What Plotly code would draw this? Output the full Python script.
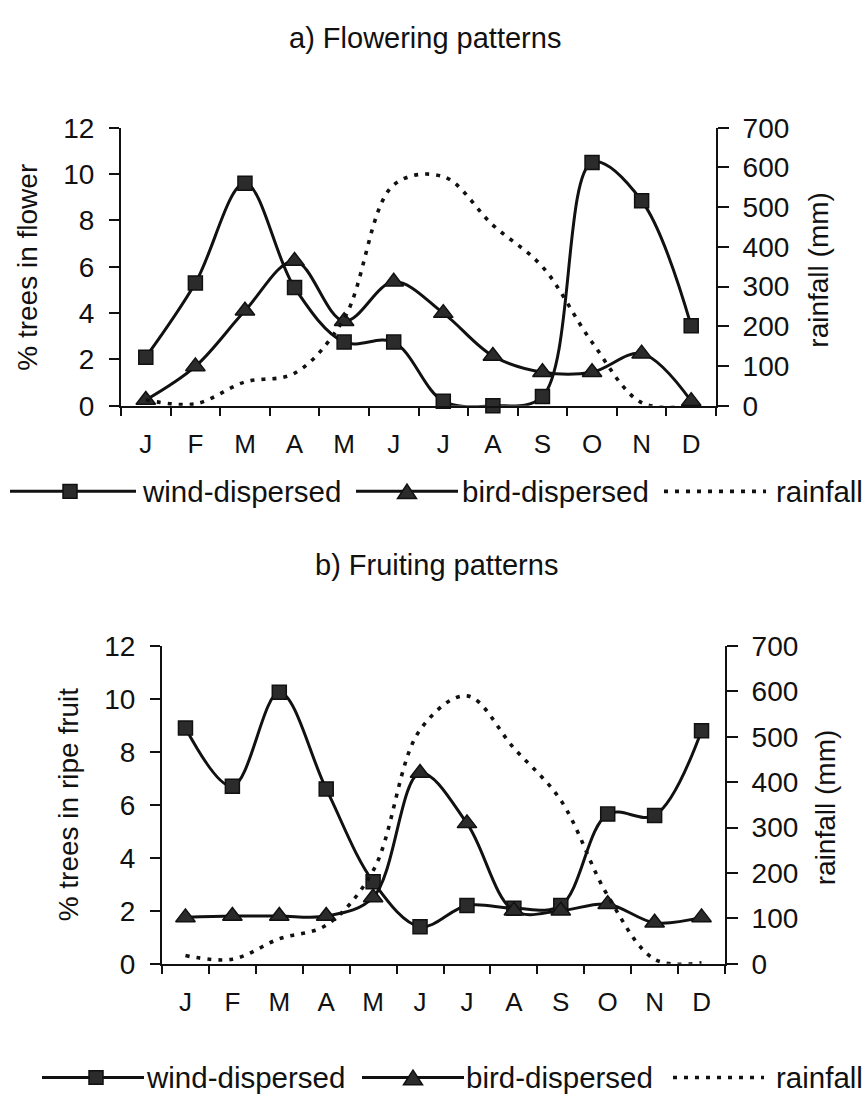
import plotly.graph_objects as go

W, H = 866, 1111

months = ["J", "F", "M", "A", "M", "J", "J", "A", "S", "O", "N", "D"]

flower_wind = [2.1, 5.3, 9.6, 5.1, 2.75, 2.75, 0.2, 0.0, 0.4, 10.5, 8.85, 3.45]
flower_bird = [0.25, 1.7, 4.1, 6.25, 3.65, 5.35, 4.0, 2.15, 1.45, 1.45, 2.25, 0.2]
flower_rain = [15, 5, 60, 82, 220, 556, 577, 455, 350, 160, 8, 0]

fruit_wind = [8.9, 6.7, 10.25, 6.6, 3.1, 1.4, 2.2, 2.1, 2.2, 5.65, 5.6, 8.8]
fruit_bird = [1.75, 1.8, 1.8, 1.8, 2.5, 7.2, 5.3, 2.0, 2.0, 2.25, 1.55, 1.75]
fruit_rain = [18, 10, 55, 85, 205, 515, 590, 475, 360, 150, 10, 2]

xi = list(range(1, len(months) + 1))

FONT = "Liberation Sans, Arial, sans-serif"
BLACK = "#111111"
FILL = "#2b2b2b"


def px(x):
    return x / W


def py(y):
    return 1 - y / H


top_x = [px(121), px(716)]
top_y = [py(402), py(116)]
bot_x = [px(162), px(725)]
bot_y = [py(976), py(649)]

line_w = 3.0
dot_dash = "4px,7px"
dot_w = 3.6

fig = go.Figure()


def add_panel(wind, bird, rain, xa, ya, ya_r):
    fig.add_trace(go.Scatter(
        x=xi, y=wind, xaxis=xa, yaxis=ya, mode="lines+markers",
        line=dict(color=BLACK, width=line_w, shape="spline", smoothing=1.0),
        marker=dict(symbol="square", size=14, color=FILL, line=dict(color=BLACK, width=1.5)),
        cliponaxis=False, showlegend=False, name="wind-dispersed"))
    fig.add_trace(go.Scatter(
        x=xi, y=bird, xaxis=xa, yaxis=ya, mode="lines+markers",
        line=dict(color=BLACK, width=line_w, shape="spline", smoothing=1.0),
        marker=dict(symbol="triangle-up", size=17, color=FILL, line=dict(color=BLACK, width=1.5)),
        cliponaxis=False, showlegend=False, name="bird-dispersed"))
    fig.add_trace(go.Scatter(
        x=xi, y=rain, xaxis=xa, yaxis=ya_r, mode="lines",
        line=dict(color=BLACK, width=dot_w, dash=dot_dash, shape="spline", smoothing=1.0),
        cliponaxis=False, showlegend=False, name="rainfall"))


add_panel(flower_wind, flower_bird, flower_rain, "x", "y", "y2")
add_panel(fruit_wind, fruit_bird, fruit_rain, "x2", "y4", "y5")

tickfont = dict(family=FONT, size=28, color=BLACK)


def xaxis_cfg(dom, anchor):
    return dict(
        domain=dom, anchor=anchor, range=[0.5, len(months) + 0.5],
        tickmode="array", tickvals=xi, ticktext=months, ticks="",
        tickfont=dict(family=FONT, size=26, color=BLACK), ticklabelstandoff=14,
        showline=True, linecolor=BLACK, linewidth=2, showgrid=False, zeroline=False,
        minor=dict(tick0=0.5, dtick=1, ticks="outside", ticklen=8, tickwidth=2,
                   tickcolor=BLACK, showgrid=False),
    )


def yleft_cfg(dom, anchor):
    return dict(
        domain=dom, anchor=anchor, range=[0, 12], tickmode="linear", tick0=0, dtick=2,
        ticks="outside", ticklen=10, tickwidth=2, tickcolor=BLACK,
        tickfont=tickfont, ticklabelstandoff=9,
        showline=True, linecolor=BLACK, linewidth=2, showgrid=False, zeroline=False,
    )


def yright_cfg(over, anchor):
    return dict(
        overlaying=over, side="right", anchor=anchor, range=[0, 700], tickmode="linear",
        tick0=0, dtick=100, ticks="outside", ticklen=11, tickwidth=2, tickcolor=BLACK,
        tickfont=tickfont, ticklabelstandoff=8,
        showline=True, linecolor=BLACK, linewidth=2, showgrid=False, zeroline=False,
    )


def yright_inner(over, anchor):
    return dict(
        overlaying=over, side="right", anchor=anchor, range=[0, 700], tickmode="linear",
        tick0=0, dtick=100, ticks="inside", ticklen=12, tickwidth=2, tickcolor=BLACK,
        showticklabels=False, showline=False, showgrid=False, zeroline=False,
    )


annotations = []
shapes = []


def text(x, y, s, size=28, xanchor="center", angle=0):
    annotations.append(dict(
        x=px(x), y=py(y), xref="paper", yref="paper", text=s, showarrow=False,
        xanchor=xanchor, yanchor="middle", textangle=angle,
        font=dict(family=FONT, size=size, color=BLACK)))


# titles
text(425, 24, "a) Flowering patterns", size=29)
text(436, 566, "b) Fruiting patterns", size=29)

# axis titles
text(28, 260, "% trees in flower", angle=-90)
text(819, 262, "rainfall (mm)", angle=-90)
text(68, 812, "% trees in ripe fruit", angle=-90)
text(825, 815, "rainfall (mm)", angle=-90)


def hline(x0, x1, y, dash=None, width=line_w):
    ln = dict(color=BLACK, width=width)
    if dash:
        ln["dash"] = dash
    shapes.append(dict(type="line", xref="paper", yref="paper",
                       x0=px(x0), x1=px(x1), y0=py(y), y1=py(y), line=ln))


def square(cx, cy, s=14):
    shapes.append(dict(type="rect", xref="paper", yref="paper",
                       x0=px(cx - s / 2), x1=px(cx + s / 2), y0=py(cy + s / 2), y1=py(cy - s / 2),
                       fillcolor=FILL, line=dict(color=BLACK, width=1.5)))


def triangle(cx, cy, w=19, h=15):
    p = "M {:.5f},{:.5f} L {:.5f},{:.5f} L {:.5f},{:.5f} Z".format(
        px(cx - w / 2), py(cy + h / 2), px(cx + w / 2), py(cy + h / 2), px(cx), py(cy - h / 2))
    shapes.append(dict(type="path", xref="paper", yref="paper", path=p,
                       fillcolor=FILL, line=dict(color=BLACK, width=1.5)))


LEG = 29.5


def legend(y, a0, a1, asq, t1, b0, b1, btr, t2, c0, c1, t3):
    hline(a0, a1, y)
    square(asq, y)
    text(t1, y, "wind-dispersed", size=LEG, xanchor="left")
    hline(b0, b1, y)
    triangle(btr, y)
    text(t2, y, "bird-dispersed", size=LEG, xanchor="left")
    hline(c0, c1, y, dash=dot_dash, width=dot_w)
    text(t3, y, "rainfall", size=LEG, xanchor="left")


legend(490, 10, 136, 70, 140, 356, 458, 407, 460, 664, 766, 774)
legend(1093, 42, 144, 96, 144, 362, 464, 413, 464, 673, 764, 774)

fig.update_layout(
    width=W, height=H, margin=dict(l=0, r=0, t=0, b=0),
    paper_bgcolor="white", plot_bgcolor="white",
    showlegend=False,
    xaxis=xaxis_cfg(top_x, "y"),
    yaxis=yleft_cfg(top_y, "x"),
    yaxis2=yright_cfg("y", "x"),
    yaxis3=yright_inner("y", "x"),
    xaxis2=xaxis_cfg(bot_x, "y4"),
    yaxis4=yleft_cfg(bot_y, "x2"),
    yaxis5=yright_cfg("y4", "x2"),
    yaxis6=yright_inner("y4", "x2"),
    annotations=annotations,
    shapes=shapes,
)

fig.write_html("out.html", config={"displayModeBar": False},
               post_script="document.body.style.margin='0px';")
